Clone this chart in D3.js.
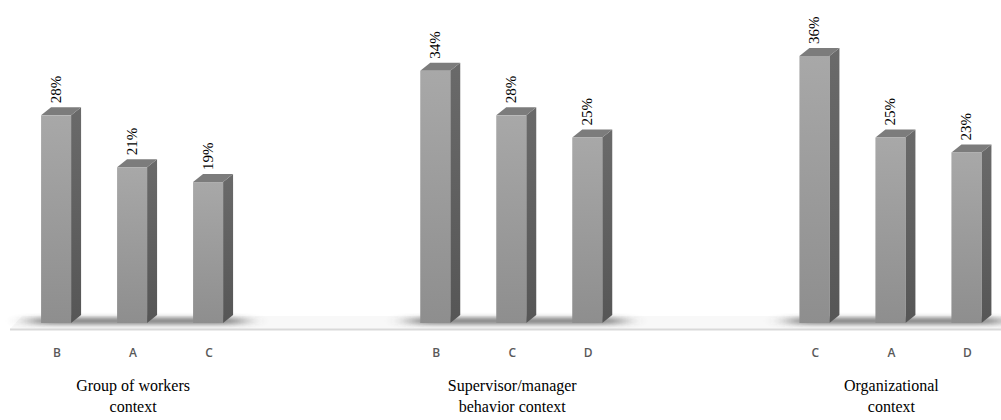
<!DOCTYPE html>
<meta charset="utf-8">
<style>
body { margin: 0; background: #fff; }
.pct { font-family: "Liberation Serif", serif; font-size: 15px; fill: #000; }
.cat { font-family: "Open Sans", "Liberation Sans", sans-serif; font-size: 12px; font-weight: 600; fill: #595959; }
.grp { font-family: "Liberation Serif", serif; font-size: 16px; fill: #000; }
</style>
<svg width="1001" height="420"></svg>
<script src="https://d3js.org/d3.v7.min.js"></script>
<script>

// groups and their bars
var groups = ["g1", "g2", "g3"];
var groupLabels = [["Group of workers", "context"], ["Supervisor/manager", "behavior context"], ["Organizational", "context"]];
var categories = [["B", "A", "C"], ["B", "C", "D"], ["C", "A", "D"]];
var values = [[28, 21, 19], [34, 28, 25], [36, 25, 23]];

var svg = d3.select("svg");
var base = 323, barW = 30, dx = 10, dy = 8;

var x0 = d3.scaleBand().domain(groups).range([-57.5, 1080]);
var x1 = d3.scalePoint().domain([0, 1, 2]).range([-76, 76]);
var y = d3.scaleLinear().domain([0, 36]).range([base, 56]);

var defs = svg.append("defs");
var gr = defs.append("linearGradient").attr("id", "front").attr("x1", 0).attr("y1", 0).attr("x2", 0).attr("y2", 1);
gr.append("stop").attr("offset", "0%").attr("stop-color", "#a8a8a8");
gr.append("stop").attr("offset", "100%").attr("stop-color", "#8e8e8e");
var gs = defs.append("linearGradient").attr("id", "side").attr("x1", 0).attr("y1", 0).attr("x2", 0).attr("y2", 1);
gs.append("stop").attr("offset", "0%").attr("stop-color", "#6a6a6a");
gs.append("stop").attr("offset", "100%").attr("stop-color", "#565656");
defs.append("filter").attr("id", "blur").attr("x", "-30%").attr("y", "-300%").attr("width", "160%").attr("height", "700%")
  .append("feGaussianBlur").attr("stdDeviation", "12 2.5");

// floor
svg.append("path")
  .attr("d", "M10,329 L22,316 L1001,316 L1001,329 Z")
  .attr("fill", "#f8f8f8");
svg.append("line")
  .attr("x1", 10).attr("x2", 1001).attr("y1", 329.5).attr("y2", 329.5)
  .attr("stroke", "#d9d9d9").attr("stroke-width", 2);

// shadows under each group
groups.forEach(function(g, i) {
  var c = x0(g) + x0.bandwidth() / 2;
  svg.append("rect")
    .attr("x", c - 100).attr("y", 318)
    .attr("width", 210).attr("height", 6)
    .attr("fill", "#3a3a3a").attr("opacity", 0.7)
    .attr("filter", "url(#blur)");
});

groups.forEach(function(g, i) {
  var c = x0(g) + x0.bandwidth() / 2;
  var gg = svg.append("g");

  values[i].forEach(function(v, j) {
    var xl = c + x1(j) - barW / 2;
    var yt = y(v);
    // side face
    gg.append("path")
      .attr("d", "M" + (xl + barW) + "," + yt + " L" + (xl + barW + dx) + "," + (yt - dy) +
        " L" + (xl + barW + dx) + "," + (base - dy) + " L" + (xl + barW) + "," + base + " Z")
      .attr("fill", "url(#side)");
    // top face
    gg.append("path")
      .attr("d", "M" + xl + "," + yt + " L" + (xl + dx) + "," + (yt - dy) +
        " L" + (xl + barW + dx) + "," + (yt - dy) + " L" + (xl + barW) + "," + yt + " Z")
      .attr("fill", "#7c7c7c");
    // front face
    gg.append("rect")
      .attr("x", xl).attr("y", yt)
      .attr("width", barW).attr("height", base - yt)
      .attr("fill", "url(#front)");
    // value label
    gg.append("text")
      .attr("class", "pct")
      .attr("transform", "translate(" + (xl + barW / 2 + 5) + "," + (yt - dy - 4) + ") rotate(-90)")
      .text(v + "%");
    // category letter
    gg.append("text")
      .attr("class", "cat")
      .attr("x", xl + barW / 2 + 1).attr("y", 357)
      .attr("text-anchor", "middle")
      .text(categories[i][j]);
  });

  groupLabels[i].forEach(function(t, k) {
    gg.append("text")
      .attr("class", "grp")
      .attr("x", c + 1).attr("y", 391 + k * 21)
      .attr("text-anchor", "middle")
      .text(t);
  });
});

</script>
